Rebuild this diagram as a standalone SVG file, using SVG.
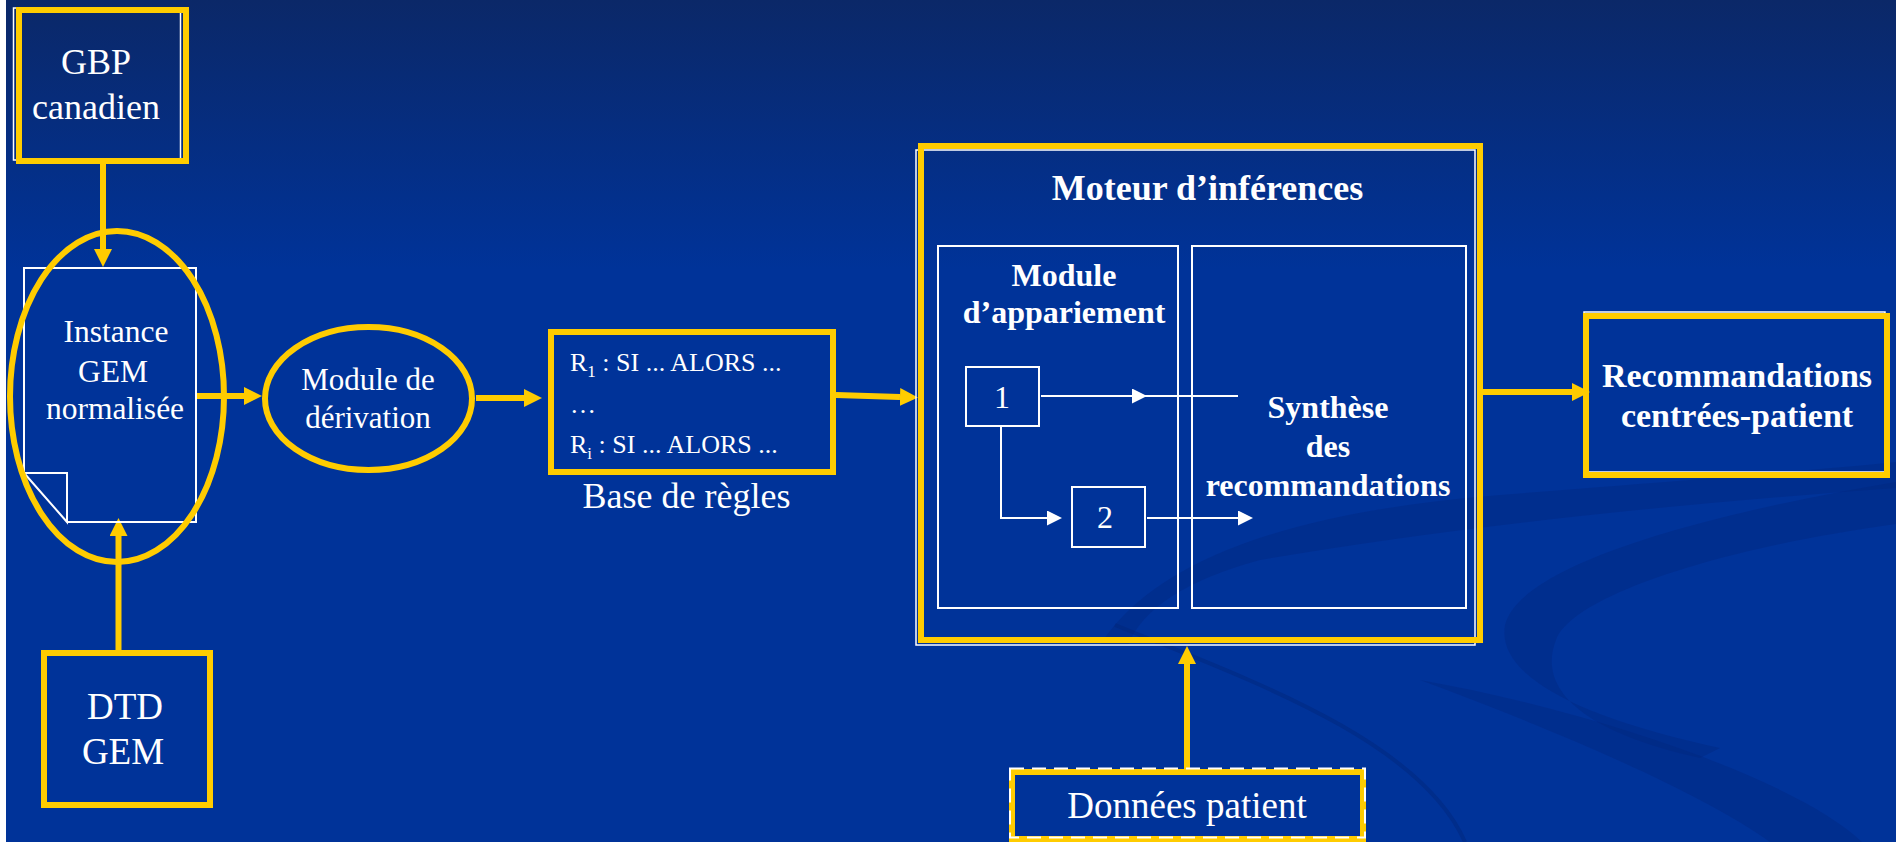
<svg xmlns="http://www.w3.org/2000/svg" width="1896" height="842" viewBox="0 0 1896 842">
<defs>
  <linearGradient id="bg" x1="0" y1="0" x2="0" y2="1">
    <stop offset="0" stop-color="#0b2868"/>
    <stop offset="0.32" stop-color="#003399"/>
    <stop offset="1" stop-color="#003399"/>
  </linearGradient>
  <marker id="ya" viewBox="0 0 18 18" refX="0" refY="9" markerWidth="18" markerHeight="18" markerUnits="userSpaceOnUse" orient="auto">
    <path d="M0,0 L18,9 L0,18 Z" fill="#ffcc00"/>
  </marker>
  <marker id="wa" viewBox="0 0 15 15" refX="0" refY="7.5" markerWidth="15" markerHeight="15" markerUnits="userSpaceOnUse" orient="auto">
    <path d="M0,0 L15,7.5 L0,15 Z" fill="#ffffff"/>
  </marker>
</defs>
<style>
  .t { font-family: "Liberation Serif", "Times New Roman", serif; fill: #ffffff; }
  .b { font-weight: bold; }
  .ybox { fill: none; stroke: #ffcc00; stroke-width: 6; }
  .wshadow { fill: none; stroke: #ffffff; stroke-width: 1.5; }
  .wbox { fill: none; stroke: #ffffff; stroke-width: 2; }
  .ylink { fill: none; stroke: #ffcc00; stroke-width: 6; marker-end: url(#ya); }
  .wlink { fill: none; stroke: #ffffff; stroke-width: 2; }
  .swoosh { fill: #00257a; opacity: 0.35; }
</style>

<!-- background -->
<rect x="0" y="0" width="1896" height="842" fill="url(#bg)"/>
<rect x="0" y="0" width="6" height="842" fill="#ffffff"/>
<g id="decoration">
  <path class="swoosh" d="M1100,645 Q1180,520 1500,495 T1896,462 L1896,488 Q1520,515 1260,560 Q1150,590 1128,645 Z"/>
  <path class="swoosh" d="M1896,482 C1700,515 1520,565 1505,625 C1495,682 1600,722 1720,748 L1700,758 C1565,728 1540,680 1556,640 C1572,596 1720,548 1896,524 Z"/>
  <path d="M1115,625 C1250,680 1420,740 1465,842" fill="none" stroke="#00257a" stroke-width="4" opacity="0.45"/>
  <path class="swoosh" d="M1420,680 C1600,712 1800,782 1862,842 L1770,842 C1700,792 1560,732 1420,680 Z"/>
</g>

<!-- connectors -->
<g id="connectors">
  <path class="ylink" d="M103,164 L103,249"/>
  <path class="ylink" d="M118.5,650 L118.5,536"/>
  <path class="ylink" d="M196,396 L244,396"/>
  <path class="ylink" d="M476,398 L524,398"/>
  <path class="ylink" d="M836,395 L900,397"/>
  <path class="ylink" d="M1483,392 L1572,392"/>
  <path class="ylink" d="M1187,769 L1187,664"/>
  <path class="wlink" d="M1041,396 L1132,396" marker-end="url(#wa)"/>
  <path class="wlink" d="M1132,396 L1238,396"/>
  <path class="wlink" d="M1001,426 L1001,518 L1047,518" marker-end="url(#wa)"/>
  <path class="wlink" d="M1147,518 L1238,518" marker-end="url(#wa)"/>
</g>

<g id="gbp">
  <rect class="wshadow" x="13.5" y="8" width="167" height="152"/>
  <rect class="ybox" x="19" y="10" width="167" height="151"/>
  <text class="t" x="96" y="74" font-size="36" text-anchor="middle">GBP</text>
  <text class="t" x="96" y="119" font-size="36" text-anchor="middle">canadien</text>
</g>

<g id="instance">
  <path class="wbox" d="M67,522 L196,522 L196,268 L24,268 L24,473 L67,522 L67,473 L24,473"/>
  <ellipse class="ybox" cx="117" cy="396.5" rx="107" ry="165.5"/>
  <text class="t" x="116" y="342" font-size="31.5" text-anchor="middle">Instance</text>
  <text class="t" x="113" y="382" font-size="31.5" text-anchor="middle">GEM</text>
  <text class="t" x="115" y="419" font-size="31.5" text-anchor="middle">normalisée</text>
</g>

<g id="dtd">
  <rect class="ybox" x="44" y="653" width="166" height="152"/>
  <text class="t" x="125" y="719" font-size="37" text-anchor="middle">DTD</text>
  <text class="t" x="123" y="764" font-size="37" text-anchor="middle">GEM</text>
</g>

<g id="derivation">
  <ellipse class="ybox" cx="368.5" cy="398.5" rx="103.5" ry="71.5"/>
  <text class="t" x="368" y="390" font-size="31" text-anchor="middle">Module de</text>
  <text class="t" x="368" y="428" font-size="31" text-anchor="middle">dérivation</text>
</g>

<g id="base-regles">
  <rect class="ybox" x="551" y="332" width="282" height="140"/>
  <text class="t" x="570" y="371" font-size="26">R<tspan font-size="17" dy="6">1</tspan><tspan dy="-6"> : SI ... ALORS ...</tspan></text>
  <text class="t" x="570" y="413" font-size="26">…</text>
  <text class="t" x="570" y="453" font-size="26">R<tspan font-size="17" dy="6">i</tspan><tspan dy="-6"> : SI ... ALORS ...</tspan></text>
  <text class="t" x="686.5" y="508" font-size="36" text-anchor="middle">Base de règles</text>
</g>

<g id="moteur">
  <rect class="wshadow" x="916" y="150" width="559" height="495"/>
  <rect class="ybox" x="921" y="146" width="559" height="494"/>
  <text class="t b" x="1207.5" y="200" font-size="36" text-anchor="middle">Moteur d’inférences</text>
</g>

<g id="appariement">
  <rect class="wbox" x="938" y="246" width="240" height="362"/>
  <text class="t b" x="1064" y="286" font-size="32" text-anchor="middle">Module</text>
  <text class="t b" x="1064" y="323" font-size="32" text-anchor="middle">d’appariement</text>
</g>

<g id="box1">
  <rect class="wbox" x="966" y="367" width="73" height="59"/>
  <text class="t" x="1002" y="408" font-size="32" text-anchor="middle">1</text>
</g>

<g id="box2">
  <rect class="wbox" x="1072" y="487" width="73" height="60"/>
  <text class="t" x="1105" y="528" font-size="32" text-anchor="middle">2</text>
</g>

<g id="synthese">
  <rect class="wbox" x="1192" y="246" width="274" height="362"/>
  <text class="t b" x="1328" y="418" font-size="32" text-anchor="middle">Synthèse</text>
  <text class="t b" x="1328" y="457" font-size="32" text-anchor="middle">des</text>
  <text class="t b" x="1328" y="496" font-size="32" text-anchor="middle">recommandations</text>
</g>

<g id="recommandations">
  <rect class="wshadow" x="1584" y="312" width="301" height="160"/>
  <rect class="ybox" x="1586" y="316" width="301" height="159"/>
  <text class="t b" x="1737" y="387" font-size="34" text-anchor="middle">Recommandations</text>
  <text class="t b" x="1737" y="427" font-size="34" text-anchor="middle">centrées-patient</text>
</g>

<g id="donnees">
  <rect class="ybox" x="1012" y="772" width="351" height="67"/>
  <rect x="1010" y="768.5" width="355" height="69" fill="none" stroke="#ffffff" stroke-width="2" stroke-dasharray="14 8"/>
  <text class="t" x="1187" y="818" font-size="37" text-anchor="middle">Données patient</text>
</g>
</svg>
